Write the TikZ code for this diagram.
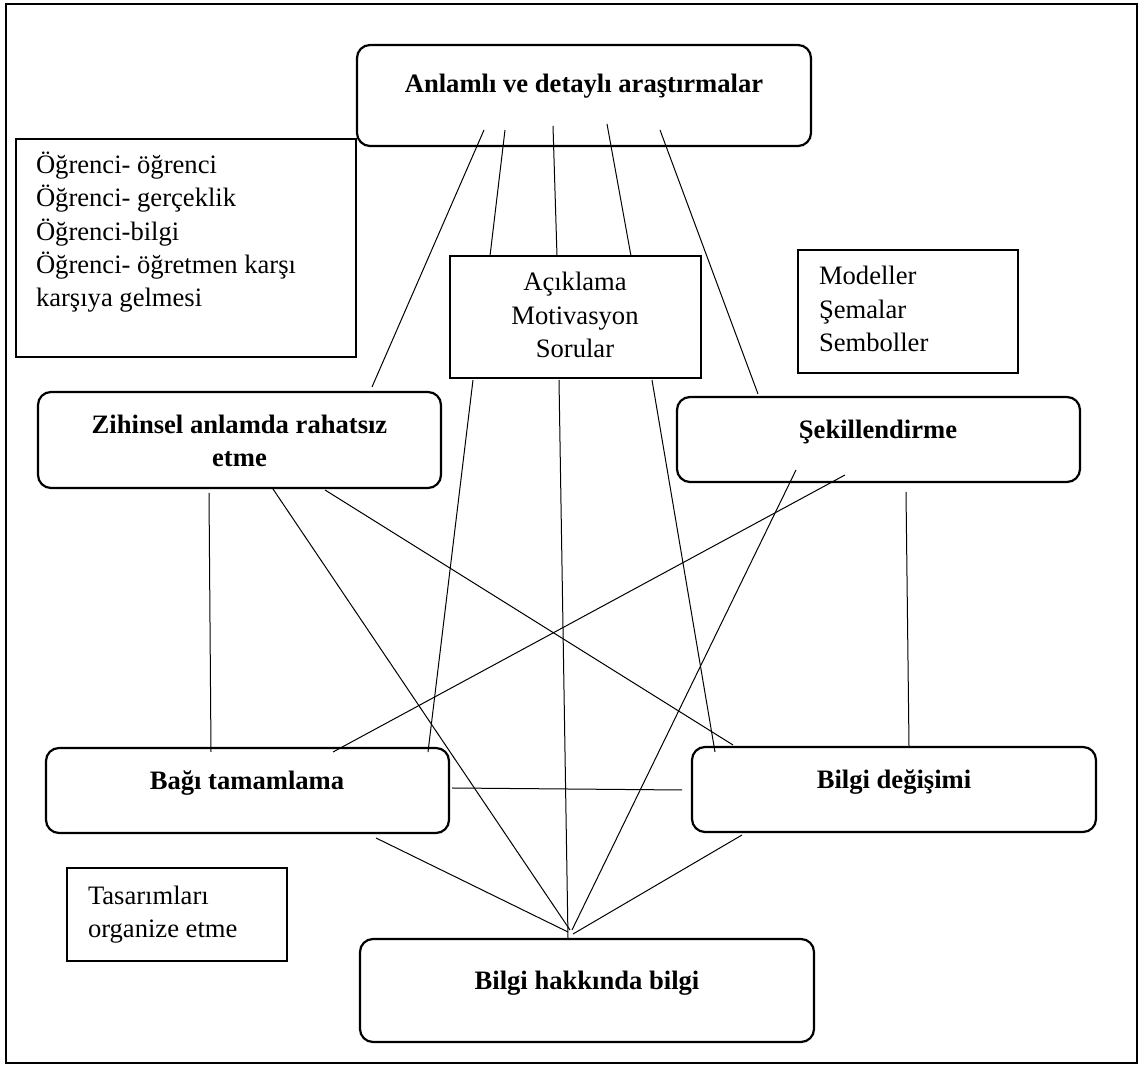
\documentclass[tikz,border=0pt]{standalone}
\usepackage{fontspec}
\setmainfont{Liberation Serif}
\usetikzlibrary{calc}
% rows of text whose baseline is the baseline of the first row
\newcommand{\txtrows}[2]{\begin{tabular}[t]{@{}#1@{}}#2\end{tabular}}

\begin{document}
\begin{tikzpicture}[x=1pt,y=1pt,
  every node/.style={inner sep=0pt, outer sep=0pt},
  rbox/.style n args={2}{draw, line width=2.2pt, rounded corners=13pt,
    minimum width=#1, minimum height=#2},
  pbox/.style n args={2}{draw, line width=1.6pt,
    minimum width=#1, minimum height=#2},
  txt/.style={font=\fontsize{26.6}{33.4}\selectfont, anchor=base},
  btxt/.style={txt, font=\fontsize{26.6}{33.4}\selectfont\bfseries},
  link/.style={line width=1pt}]
\renewcommand{\arraystretch}{1}
\useasboundingbox (0,0) rectangle (1138,1065);

% outer frame
\draw[line width=2pt] (6,2) rectangle (1137,1061);

% rounded concept boxes
\node[rbox={454pt}{101pt}] (top) at (584,969.5) {};
\node[rbox={403pt}{96pt}]  (zih) at (239.5,625) {};
\node[rbox={403pt}{85pt}]  (sek) at (878.5,625.5) {};
\node[rbox={403pt}{85pt}]  (bag) at (247.5,274.5) {};
\node[rbox={404pt}{85pt}]  (deg) at (894,275.5) {};
\node[rbox={454pt}{103pt}] (hak) at (587,74.5) {};

% plain boxes
\node[pbox={340pt}{218pt}] (ogr) at (186,817) {};
\node[pbox={251pt}{122pt}] (acl) at (575.5,748) {};
\node[pbox={220pt}{123pt}] (mod) at (908,753.5) {};
\node[pbox={220pt}{93pt}]  (tas) at (177,150.5) {};

% labels
\node[btxt] (topt) at (584,972.3) {Anlamlı ve detaylı araştırmalar};
\node[btxt] (ziht) at (239.5,631.7) {\txtrows{c}{Zihinsel anlamda rahatsız\\ etme}};
\node[btxt] (sekt) at (878,626.7) {Şekillendirme};
\node[btxt] (bagt) at (247,275.7) {Bağı tamamlama};
\node[btxt] (degt) at (894,276.7) {Bilgi değişimi};
\node[btxt] (hakt) at (587,75.7) {Bilgi hakkında bilgi};

\node[txt, anchor=base west] (ogrt) at (36,891.7)
  {\txtrows{l}{Öğrenci- öğrenci\\ Öğrenci- gerçeklik\\ Öğrenci-bilgi\\
   Öğrenci- öğretmen karşı\\ karşıya gelmesi}};
\node[txt] (aclt) at (575,774.3) {\txtrows{c}{Açıklama\\ Motivasyon\\ Sorular}};
\node[txt, anchor=base west] (modt) at (819,780) {\txtrows{l}{Modeller\\ Şemalar\\ Semboller}};
\node[txt, anchor=base west] (tast) at (88,160.7) {\txtrows{l}{Tasarımları\\ organize etme}};

% connectors
\draw[link] ($(top.south)+(-100,16)$) -- ($(zih.north)+(132.5,5)$);
\draw[link] ($(top.south)+(-79,16)$)  -- ($(acl.north)+(-85.5,0)$);
\draw[link] ($(top.south)+(-31,20)$)  -- ($(acl.north)+(-18.5,0)$);
\draw[link] ($(top.south)+(23,22)$)   -- ($(acl.north)+(55.5,0)$);
\draw[link] ($(top.south)+(76,16)$)   -- ($(sek.north)+(-120.5,3)$);

\draw[link] ($(zih.south)+(-30.5,-5)$) -- ($(bag.north)+(-36.5,-4)$);
\draw[link] ($(zih.south)+(33.5,-1)$)  -- ($(hak.north)+(-17,9)$);
\draw[link] ($(zih.south)+(85.5,-2)$)  -- ($(deg.north)+(-161,2)$);

\draw[link] ($(acl.south)+(-102.5,-2)$) -- ($(bag.north)+(180.5,-4)$);
\draw[link] ($(acl.south)+(-16.5,-2)$)  -- ($(hak.north)+(-19,1)$);
\draw[link] ($(acl.south)+(76.5,-2)$)   -- ($(deg.north)+(-179,-5)$);

\draw[link] ($(sek.south)+(-82.5,12)$) -- ($(hak.north)+(-15,9)$);
\draw[link] ($(sek.south)+(-33.5,7)$)  -- ($(bag.north)+(85.5,-4)$);
\draw[link] ($(sek.south)+(27.5,-10)$) -- ($(deg.north)+(15,1)$);

\draw[link] ($(bag.east)+(3,2.5)$) -- ($(deg.west)+(-10,-0.5)$);
\draw[link] ($(bag.south)+(128.5,-5)$) -- ($(hak.north)+(-19,7)$);
\draw[link] ($(deg.south)+(-152,-3)$)  -- ($(hak.north)+(-14,5)$);
\end{tikzpicture}
\end{document}
